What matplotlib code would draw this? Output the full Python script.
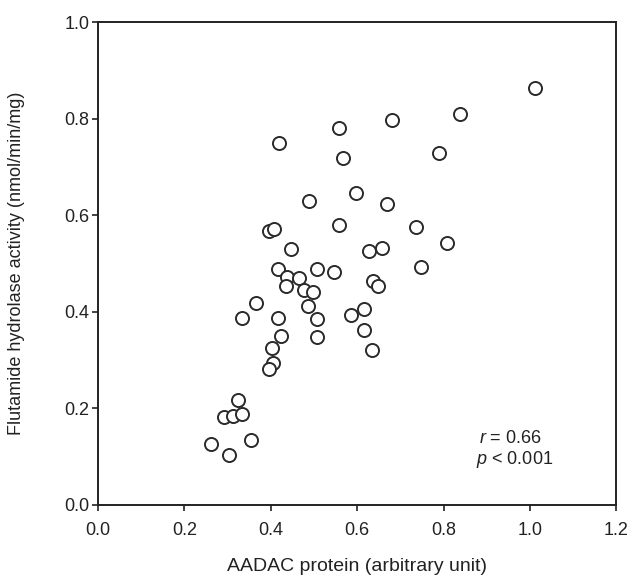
import matplotlib
matplotlib.use("Agg")
import matplotlib.pyplot as plt

plt.rcParams["font.family"] = ["Liberation Sans", "DejaVu Sans"]
plt.rcParams["mathtext.fontset"] = "custom"
plt.rcParams["mathtext.rm"] = "Liberation Sans"
plt.rcParams["mathtext.it"] = "Liberation Sans:italic"

# AADAC protein (arbitrary unit)
aadac = [
    1.011, 0.839, 0.680, 0.559, 0.419, 0.567, 0.789, 0.598, 0.489, 0.668,
    0.557, 0.737, 0.396, 0.407, 0.446, 0.628, 0.658, 0.808, 0.748, 0.417,
    0.507, 0.546, 0.437, 0.465, 0.435, 0.476, 0.498, 0.636, 0.648, 0.366,
    0.486, 0.333, 0.416, 0.507, 0.585, 0.617, 0.424, 0.507, 0.617, 0.635,
    0.404, 0.405, 0.395, 0.324, 0.291, 0.312, 0.333, 0.263, 0.354, 0.303,
]
# Flutamide hydrolase activity (nmol/min/mg)
activity = [
    0.864, 0.810, 0.798, 0.781, 0.749, 0.719, 0.729, 0.645, 0.630, 0.624,
    0.580, 0.576, 0.568, 0.571, 0.530, 0.526, 0.531, 0.542, 0.493, 0.489,
    0.488, 0.482, 0.472, 0.469, 0.453, 0.444, 0.440, 0.463, 0.454, 0.419,
    0.411, 0.387, 0.386, 0.385, 0.394, 0.405, 0.350, 0.347, 0.363, 0.320,
    0.324, 0.294, 0.281, 0.218, 0.183, 0.184, 0.189, 0.127, 0.134, 0.103,
]

x_ticks = [0.0, 0.2, 0.4, 0.6, 0.8, 1.0, 1.2]
y_ticks = [0.0, 0.2, 0.4, 0.6, 0.8, 1.0]

fig = plt.figure(figsize=(6.31, 5.79), dpi=100)
ax = fig.add_axes([0.155, 0.128, 0.822, 0.834])

ax.plot(aadac, activity, linestyle="none", marker="o", markersize=9.4,
        markerfacecolor="white", markeredgecolor="#2a2a2a", markeredgewidth=1.4)

ax.set_xlim(0, 1.2)
ax.set_ylim(0, 1.0)
ax.set_xticks(x_ticks)
ax.set_yticks(y_ticks)
ax.set_xticklabels([f"{v:.1f}" for v in x_ticks])
ax.set_yticklabels([f"{v:.1f}" for v in y_ticks])

for side in ax.spines.values():
    side.set_linewidth(1.4)
    side.set_color("#222222")
ax.tick_params(direction="out", length=4, width=1.2, color="#222222",
               labelsize=13, labelcolor="#222222")
ax.tick_params(axis="x", pad=8)
ax.tick_params(axis="y", pad=2)

ax.set_xlabel("AADAC protein (arbitrary unit)", fontsize=14, color="#222222", labelpad=14)
ax.set_ylabel("Flutamide hydrolase activity (nmol/min/mg)", fontsize=13,
              color="#222222", labelpad=28)

ax.text(0.883, 0.128, r"$\it{r}$ = 0.66", fontsize=13, color="#222222")
ax.text(0.876, 0.085, r"$\it{p}$ < 0.001", fontsize=13, color="#222222")

fig.savefig("out.png", dpi=100)
